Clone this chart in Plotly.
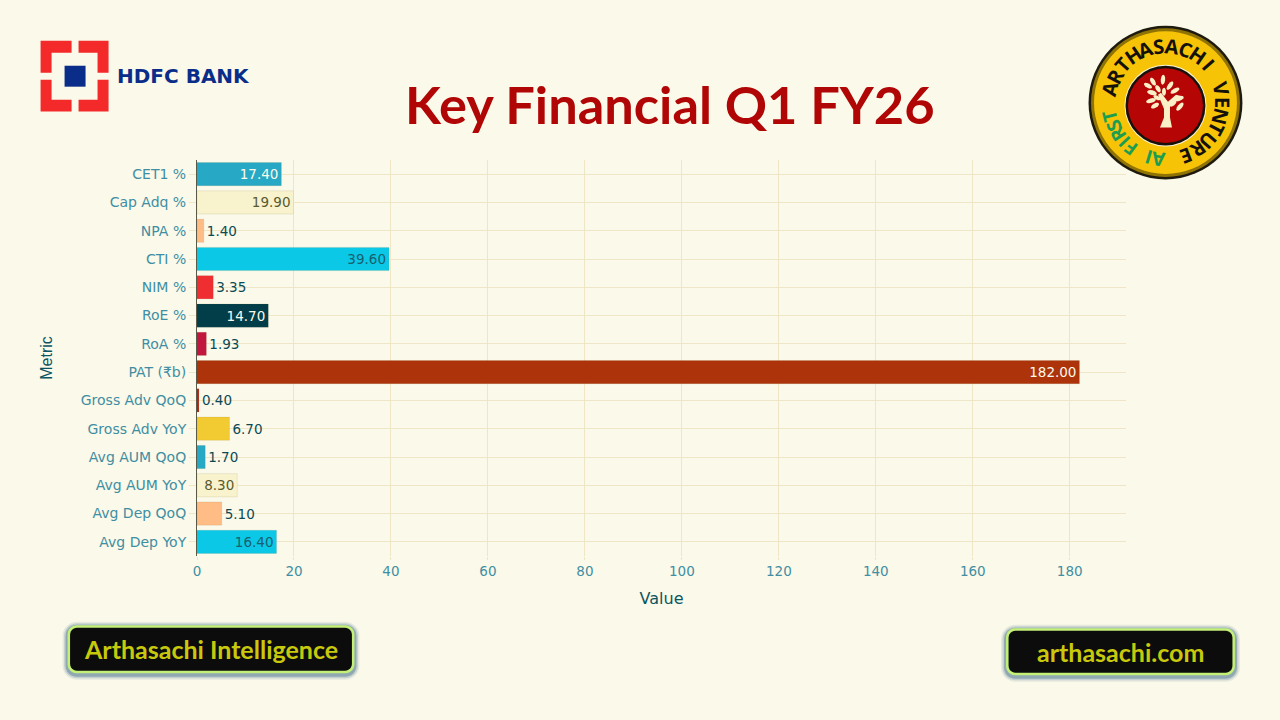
import math
import plotly.graph_objects as go

W, H = 1280, 720
L, R, T, B = 196.5, 1126.0, 159.5, 556.5

metrics = ["CET1 %", "Cap Adq %", "NPA %", "CTI %", "NIM %", "RoE %", "RoA %", "PAT (₹b)",
           "Gross Adv QoQ", "Gross Adv YoY", "Avg AUM QoQ", "Avg AUM YoY", "Avg Dep QoQ", "Avg Dep YoY"]
values = [17.40, 19.90, 1.40, 39.60, 3.35, 14.70, 1.93, 182.00, 0.40, 6.70, 1.70, 8.30, 5.10, 16.40]
bar_colors = ["#27A9C6", "#F8F3CC", "#FFBC85", "#0BC9E6", "#EF2E31", "#023E4A", "#C1173F", "#AC330A",
              "#AE2012", "#F2CB33", "#27A9C6", "#F8F3CC", "#FFBC85", "#0BC9E6"]
label_colors = ["#FBFAEA", "#5A5A30", "#0B4A55", "#17606F", "#0B4A55", "#FBFAEA", "#0B4A55", "#FBFAEA",
                "#0B4A55", "#0B4A55", "#0B4A55", "#5A5A30", "#0B4A55", "#17606F"]
label_pos = ["inside", "inside", "outside", "inside", "outside", "inside", "outside", "inside",
             "outside", "outside", "outside", "inside", "outside", "inside"]
x_ticks = [0, 20, 40, 60, 80, 100, 120, 140, 160, 180]

BG = "#FBF9E9"
GRID = "#EFE6C8"
TICK = "#3F8EA3"
DARK = "#0B5563"
FONT = "DejaVu Sans"
HEAD = "Lato"


def px(x):
    return (x - L) / (R - L)


def py(y):
    return (B - y) / (B - T)


shapes, notes = [], []


def path_shape(points, fill):
    d = "M " + " L ".join(f"{px(a):.5f},{py(b):.5f}" for a, b in points) + " Z"
    shapes.append(dict(type="path", xref="paper", yref="paper", path=d, fillcolor=fill,
                       line=dict(width=0), layer="above"))


def circle(cx, cy, rx, ry, fill, line=None, lw=0):
    shapes.append(dict(type="circle", xref="paper", yref="paper", x0=px(cx - rx), x1=px(cx + rx),
                       y0=py(cy + ry), y1=py(cy - ry), fillcolor=fill,
                       line=dict(width=lw, color=line or fill), layer="above"))


def leaf(cx, cy, length, width, angle, fill):
    a = math.radians(angle)
    pts = []
    for k in range(12):
        t = 2 * math.pi * k / 12
        u, v = length * math.cos(t), width * math.sin(t)
        pts.append((cx + u * math.cos(a) - v * math.sin(a), cy + u * math.sin(a) + v * math.cos(a)))
    path_shape(pts, fill)


def round_rect(x0, y0, x1, y1, r, fill, opacity=1.0):
    pts = []
    for cx, cy, a0 in ((x1 - r, y0 + r, -90), (x1 - r, y1 - r, 0), (x0 + r, y1 - r, 90), (x0 + r, y0 + r, 180)):
        for k in range(7):
            a = math.radians(a0 + k * 15)
            pts.append((cx + r * math.cos(a), cy + r * math.sin(a)))
    d = "M " + " L ".join(f"{px(a):.5f},{py(b):.5f}" for a, b in pts) + " Z"
    shapes.append(dict(type="path", xref="paper", yref="paper", path=d, fillcolor=fill, opacity=opacity,
                       line=dict(width=0), layer="above"))


def note(x, y, text, size, color, family=HEAD, angle=0, bold=False):
    notes.append(dict(xref="paper", yref="paper", x=px(x), y=py(y), text=f"<b>{text}</b>" if bold else text,
                      showarrow=False, xanchor="center", yanchor="middle", textangle=angle,
                      font=dict(size=size, color=color, family=family)))


# HDFC Bank mark
RED = "#F42A2A"
NAVY = "#0B2D8A"
path_shape([(40, 40), (71, 40), (71, 52), (51, 52), (51, 72), (40, 72)], RED)
path_shape([(78, 40), (108, 40), (108, 72), (97, 72), (97, 52), (78, 52)], RED)
path_shape([(40, 79), (51, 79), (51, 99), (71, 99), (71, 111), (40, 111)], RED)
path_shape([(97, 79), (108, 79), (108, 111), (78, 111), (78, 99), (97, 99)], RED)
path_shape([(64, 65), (85, 65), (85, 86), (64, 86)], NAVY)
note(182.5, 75, "HDFC BANK", 20, NAVY, "DejaVu Sans", bold=True)

# Title
note(670, 103, "Key Financial Q1 FY26", 52.4, "#B00606", HEAD, bold=True)

# Round badge
CX, CY = 1165.5, 102
circle(CX, CY, 77, 77, "#1E1A10")
circle(CX, CY, 74.5, 74.5, "#8F7405")
circle(CX, CY, 71.5, 71.5, "#F7C307")
circle(CX, CY + 3, 41, 41, "#FBF5D8")
circle(CX, CY + 3, 40, 40, "#17110A")
circle(CX, CY + 3, 37.5, 37.5, "#B50505")
LEAF = "#FBEFC8"
path_shape([(1160, 127), (1172, 127), (1170, 117), (1170, 105), (1180, 95), (1176, 94), (1168, 101),
            (1161, 92), (1158, 94), (1164, 108), (1164, 117)], LEAF)
for ox, oy, ln, wd, ang in [(1148, 85, 4.5, 2.2, 30), (1153, 81, 4.5, 2.2, 60), (1163, 79, 5, 2.2, 95),
                            (1170, 85, 5, 2.2, 125), (1175, 90, 5, 2.2, 150), (1152, 92, 5, 2.4, 15),
                            (1158, 88, 4, 2.2, 60), (1164, 91, 4, 2, 90), (1178, 98, 6, 2.6, 165),
                            (1151, 100, 5, 2.3, 165), (1157, 97, 4, 2, 30), (1180, 106, 5, 2.2, 130),
                            (1155, 105, 4.5, 2.2, 150), (1173, 103, 4, 2, 140)]:
    leaf(ox, oy, ln, wd, ang, LEAF)

ring_r = 57
ring_top = "ARTHASACHI VENTURE"
for i, ch in enumerate(ring_top):
    a = -76 + i * (235 / (len(ring_top) - 1))
    t = math.radians(a)
    if ch != " ":
        note(CX + ring_r * math.sin(t), CY - ring_r * math.cos(t), ch, 20, "#14110A", "Open Sans", angle=a, bold=True)
ring_low = "AI FIRST"
for i, ch in enumerate(ring_low):
    a = 187 + i * (69 / (len(ring_low) - 1))
    t = math.radians(a)
    if ch != " ":
        note(CX + ring_r * math.sin(t), CY - ring_r * math.cos(t), ch, 19, "#1C9D50", "Open Sans", angle=a, bold=True)

# Footer buttons
for (x0, y0, x1, y1, label, lx, ly) in [(67, 626, 354, 674, "Arthasachi Intelligence", 210.5, 650),
                                        (1006, 629, 1235, 676, "arthasachi.com", 1120, 653)]:
    for grow, op in ((5, 0.10), (3.5, 0.18), (2, 0.35)):
        round_rect(x0 - grow, y0 - grow + 1.5, x1 + grow, y1 + grow + 1.5, 9 + grow, "#2F5F80", op)
    round_rect(x0, y0, x1, y1, 9, "#C4F078")
    round_rect(x0 + 2.5, y0 + 2.5, x1 - 2.5, y1 - 2.5, 7, "#0C0C0C")
    note(lx, ly, label, 25, "#C8C80C", HEAD, bold=True)

fig = go.Figure(go.Bar(
    y=metrics, x=values, orientation="h",
    marker=dict(color=bar_colors, line=dict(width=1, color="rgba(120,110,60,0.12)")),
    text=[f"{v:.2f}" for v in values],
    textposition=label_pos,
    insidetextanchor="end",
    textangle=0,
    cliponaxis=False,
    constraintext="none",
    textfont=dict(size=13.5, family=FONT, color=label_colors),
))
fig.update_layout(
    width=W, height=H, autosize=False, showlegend=False,
    paper_bgcolor=BG, plot_bgcolor=BG, bargap=0.18,
    margin=dict(l=L, r=W - R, t=T, b=H - B, pad=0),
    font=dict(family=FONT, color=TICK, size=12),
    shapes=shapes, annotations=notes,
    xaxis=dict(range=[0, 191.6], tickvals=x_ticks, gridcolor=GRID, gridwidth=1, zeroline=False,
               showline=False, ticks="outside", ticklen=3, tickcolor=GRID,
               tickfont=dict(size=13.5, color=TICK, family=FONT),
               title=dict(text="Value", font=dict(size=16, color=DARK, family=FONT), standoff=14),
               automargin=False),
    yaxis=dict(range=[13.5, -0.5], type="category", categoryorder="array", categoryarray=metrics,
               gridcolor=GRID, gridwidth=1, showline=True, linecolor="#5A5A48", linewidth=1,
               ticks="outside", ticklen=7, tickcolor=GRID, tickfont=dict(size=14, color=TICK, family=FONT),
               title=dict(text="Metric", font=dict(size=16, color=DARK, family="Liberation Sans"), standoff=24),
               automargin=False),
)
fig.write_html("out.html", config=dict(displayModeBar=False),
               post_script="document.body.style.margin='0';document.body.style.overflow='hidden';")
